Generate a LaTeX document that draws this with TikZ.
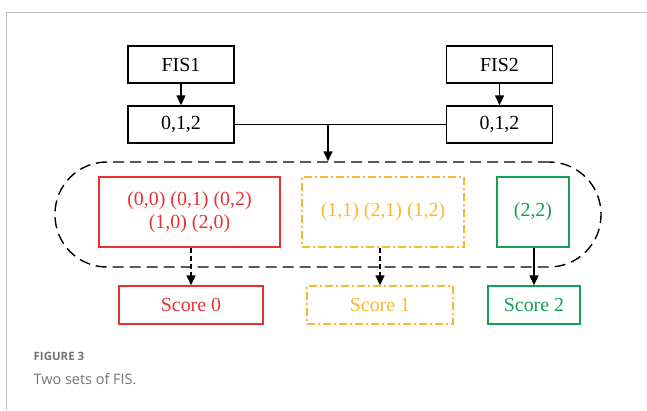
\documentclass[tikz,border=0pt]{standalone}
\usepackage{fontspec}
\setmainfont{Liberation Serif}
\newfontfamily\capfont{Open Sans}
\usetikzlibrary{arrows.meta}

\definecolor{setred}{RGB}{232,50,50}
\definecolor{setyellow}{RGB}{250,185,45}
\definecolor{setgreen}{RGB}{20,160,85}
\definecolor{framegray}{RGB}{190,190,190}
\definecolor{capgray}{RGB}{115,115,115}

\begin{document}
\begin{tikzpicture}[x = 1bp, y = -1bp, line width = 1.4bp,
    box/.style = {draw, rectangle, inner sep = 0pt, align = center,
                  font = \fontsize{20}{23}\selectfont},
    arr/.style = {-{Triangle[length = 10bp, width = 9bp]}},
    dashdot/.style = {dash pattern = on 8bp off 3bp on 2bp off 3bp}]

            \useasboundingbox (0,0) rectangle (647,410);
            \draw [framegray, line width = 1bp] (6,410) -- (6,12) -- (647,12);

            % the two FIS
            \node [box, minimum width = 106bp, minimum height = 37bp] (fisA) at (181,64.5) {FIS1};
            \node [box, minimum width = 106bp, minimum height = 37bp] (fisB) at (499.5,64.5) {FIS2};
            \node [box, minimum width = 106bp, minimum height = 37bp] (valA) at (181,124.5) {0,1,2};
            \node [box, minimum width = 106bp, minimum height = 37bp] (valB) at (499.5,124.5) {0,1,2};
            \draw [arr] (fisA) -- (valA);
            \draw [arr] (fisB) -- (valB);

            % combined pairs
            \node [draw, dash pattern = on 11bp off 6bp, rounded corners = 52bp,
                   minimum width = 546bp, minimum height = 105bp] (grp) at (328,214.5) {};
            \draw (valA.east) -- (valB.west);
            \draw [arr] (grp.north |- valA.east) -- (grp.north);

            \node [box, setred, text = setred, minimum width = 181bp, minimum height = 70bp] (setA) at (189.5,212)
                  {(0,0) (0,1) (0,2)\\(1,0) (2,0)};
            \node [box, setyellow, text = setyellow, dashdot, minimum width = 162bp, minimum height = 70bp] (setB) at (383,212)
                  {(1,1) (2,1) (1,2)};
            \node [box, setgreen, text = setgreen, minimum width = 72bp, minimum height = 70bp] (setC) at (533,212)
                  {(2,2)};

            % scores
            \node [box, setred, text = setred, minimum width = 144bp, minimum height = 38bp] (scoreA) at (191,305) {Score 0};
            \node [box, setyellow, text = setyellow, dashdot, minimum width = 146bp, minimum height = 38bp] (scoreB) at (380,305) {Score 1};
            \node [box, setgreen, text = setgreen, minimum width = 92bp, minimum height = 38bp] (scoreC) at (534,305) {Score 2};
            \draw [arr, dash pattern = on 5bp off 3bp] (setA.south -| scoreA.north) -- (scoreA.north);
            \draw [arr, dash pattern = on 5bp off 3bp] (setB.south -| scoreB.north) -- (scoreB.north);
            \draw [arr] (setC.south -| scoreC.north) -- (scoreC.north);

            % caption
            \node [anchor = base west, inner sep = 0pt, text = capgray,
                   font = \capfont\bfseries\fontsize{11.5}{13}\selectfont] (figlbl) at (33,360) {FIGURE 3};
            \node [anchor = base west, inner sep = 0pt, text = capgray,
                   font = \capfont\fontsize{14.5}{17}\selectfont] (figcap) at (33,384) {Two sets of FIS.};
            \end{tikzpicture}
\end{document}
